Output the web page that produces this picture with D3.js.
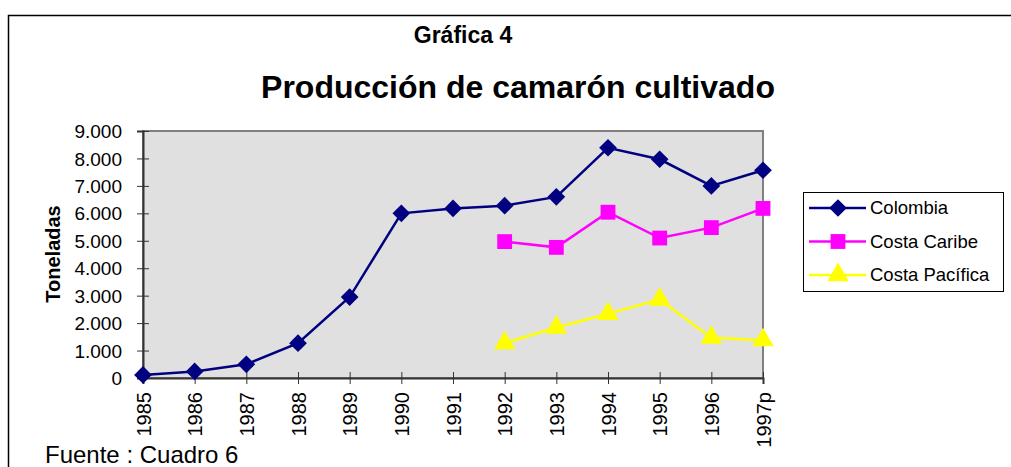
<!DOCTYPE html>
<html><head><meta charset="utf-8">
<script src="https://cdn.jsdelivr.net/npm/d3@7"></script>
<style>body{margin:0;background:#fff;}svg{display:block;font-family:"Liberation Sans",Arial,sans-serif;}</style>
</head><body>
<svg id="c" width="1011" height="467"></svg>
<script>
const years = ["1985","1986","1987","1988","1989","1990","1991","1992","1993","1994","1995","1996","1997p"];
const colombia = [110,240,500,1270,2950,6000,6180,6280,6600,8390,7970,7000,7570];
const caribeYears = ["1992","1993","1994","1995","1996","1997p"];
const caribe = [4970,4760,6040,5100,5480,6180];
const pacifica = [1270,1840,2340,2860,1470,1380];
const yTicks = [0,1000,2000,3000,4000,5000,6000,7000,8000,9000];
const seriesNames = ["Colombia","Costa Caribe","Costa Pacífica"];

const svg = d3.select("#c");
const L=143, R=763, T=131, B=378;
const x = d3.scalePoint().domain(years).range([L,R]);
const y = d3.scaleLinear().domain([0,9000]).range([B,T]);
const fmt = v => d3.format(",")(v).replace(/,/g,".");
const FF = "Liberation Sans, Arial, sans-serif";

// outer frame
svg.append("path").attr("d","M8.5,467 V15.5 H1011").attr("fill","none").attr("stroke","#000").attr("stroke-width",1.5);

svg.append("text").attr("x",463).attr("y",43).attr("text-anchor","middle").attr("font-weight","bold").attr("font-size",23).text("Gráfica 4");
svg.append("text").attr("x",518).attr("y",98).attr("text-anchor","middle").attr("font-weight","bold").attr("font-size",32).text("Producción de camarón cultivado");

// plot area
svg.append("rect").attr("x",L).attr("y",T).attr("width",R-L).attr("height",B-T).attr("fill","#e0e0e0").attr("stroke","#808080").attr("stroke-width",2);

// y axis
const ya = svg.append("g").attr("transform",`translate(${L},0)`).call(d3.axisLeft(y).tickValues(yTicks).tickFormat(fmt).tickSize(6).tickPadding(15));
ya.select(".domain").attr("stroke","#333").attr("stroke-width",2);
ya.selectAll(".tick line").attr("stroke","#333").attr("x2",-6).attr("x1",6);
ya.selectAll(".tick text").attr("font-size",19).attr("fill","#000").attr("font-family",FF).attr("dy","0.35em");

// x axis
const xa = svg.append("g").attr("transform",`translate(0,${B})`).call(d3.axisBottom(x).tickSize(6).tickPadding(5));
xa.select(".domain").attr("stroke","#333").attr("stroke-width",2);
xa.selectAll(".tick line").attr("stroke","#333").attr("y1",-6).attr("y2",6);
xa.selectAll(".tick text").attr("font-size",20).attr("fill","#000").attr("font-family",FF)
  .attr("transform","rotate(-90)").attr("text-anchor","end").attr("x",-14).attr("y",0).attr("dy","0.35em");

svg.append("text").attr("transform",`translate(60,254) rotate(-90)`).attr("text-anchor","middle").attr("font-weight","bold").attr("font-size",20).text("Toneladas");

const line = d3.line().x(d=>x(d[0])).y(d=>y(d[1]));
const diamond = d3.symbol().type(d3.symbolDiamond2).size(200);
const square = d3.symbol().type(d3.symbolSquare).size(220);
const tri = d3.symbol().type(d3.symbolTriangle).size(200);

function series(xs, vals, color, sym){
  const data = xs.map((k,i)=>[k,vals[i]]);
  svg.append("path").datum(data).attr("d",line).attr("fill","none").attr("stroke",color).attr("stroke-width",2.5);
  svg.append("g").selectAll("path").data(data).join("path").attr("d",sym)
    .attr("transform",d=>`translate(${x(d[0])},${y(d[1])})`).attr("fill",color);
}
series(years, colombia, "#000080", diamond);
series(caribeYears, caribe, "#ff00ff", square);
series(caribeYears, pacifica, "#ffff00", tri);

// legend
const lg = svg.append("g");
lg.append("rect").attr("x",803.5).attr("y",192.5).attr("width",200).attr("height",99).attr("fill","#fff").attr("stroke","#000").attr("stroke-width",1);
const colors=["#000080","#ff00ff","#ffff00"], syms=[diamond,square,tri];
seriesNames.forEach((n,i)=>{
  const yy = 208 + i*33.5;
  lg.append("line").attr("x1",809).attr("x2",866).attr("y1",yy).attr("y2",yy).attr("stroke",colors[i]).attr("stroke-width",2.5);
  lg.append("path").attr("d",syms[i]).attr("transform",`translate(838,${yy})`).attr("fill",colors[i]);
  lg.append("text").attr("x",870).attr("y",yy).attr("dy","0.35em").attr("font-size",18.5).text(n);
});

svg.append("text").attr("x",45).attr("y",463).attr("font-size",24).text("Fuente : Cuadro 6");
</script>
</body></html>
